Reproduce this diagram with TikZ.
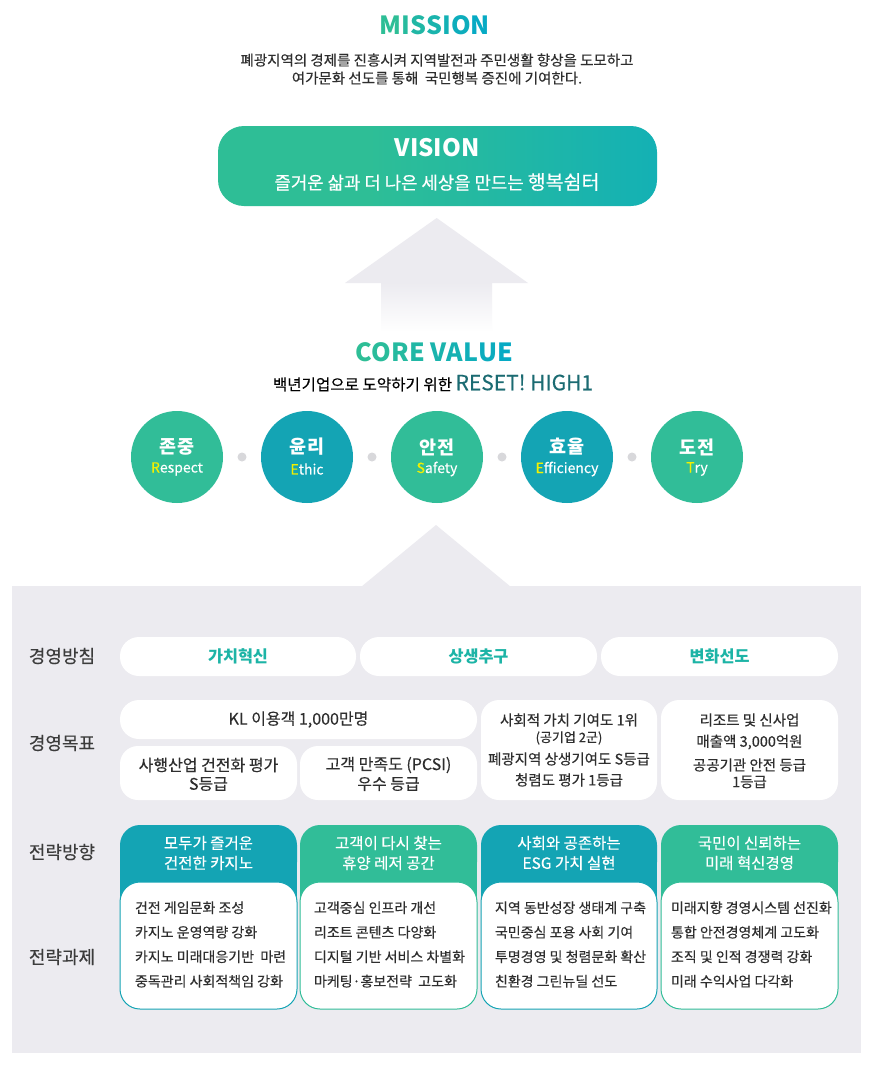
\documentclass[tikz,border=0pt]{standalone}
\usepackage{fontspec}
\setmainfont{Noto Sans CJK KR}[UprightFeatures={FakeBold=0.3}]
\usetikzlibrary{calc}
\definecolor{gA}{HTML}{2EBE96}
\definecolor{gB}{HTML}{06AAC4}
\definecolor{cTeal}{HTML}{14A4B4}
\definecolor{cGreen}{HTML}{31BD98}
\definecolor{panel}{HTML}{ECEBF0}
\definecolor{dotc}{HTML}{D8D8DB}
\definecolor{txt}{HTML}{2E2E2E}
\definecolor{lab}{HTML}{3C3C3C}
\definecolor{hl}{HTML}{F2F000}
\definecolor{resetc}{HTML}{1B6B72}
\definecolor{pilltxt}{HTML}{1DB4A6}
\newcommand{\myfs}[2]{\fontsize{#1}{#2}\selectfont}
\pgfdeclarehorizontalshading{visionshade}{100bp}{color(0bp)=(gA); color(42bp)=(gA); color(92bp)=(gB); color(100bp)=(gB)}
\tikzset{
  plain/.style={inner sep=0pt, outer sep=0pt},
  ttl/.style={plain, font=\myfs{25}{30}\bfseries},
  pill/.style={plain, fill=white, rounded corners=19pt, minimum height=39pt},
  goalbox/.style={plain, fill=white, rounded corners=18pt},
  hdr/.style={plain, rounded corners=20pt, minimum width=177pt, minimum height=57pt},
  taskbox/.style={plain, fill=white, rounded corners=20pt, minimum width=177pt, minimum height=127pt, line width=1pt},
  cval/.style={plain, circle, minimum size=92pt},
  sep/.style={plain, circle, fill=dotc, minimum size=9pt},
  rowlab/.style={plain, text=lab, font=\myfs{18}{20}},
  goaltxt/.style={plain, text=txt, font=\myfs{16}{19}},
  goaltxts/.style={plain, text=txt, font=\myfs{14.5}{19}},
  hdrtxt/.style={plain, text=white, align=center, font=\myfs{15.5}{20}},
  tasktxt/.style={plain, text=txt, align=left, anchor=west, font=\myfs{14}{24.5}},
}
\begin{document}
\begin{tikzpicture}[x=1pt,y=-1pt]
\useasboundingbox (0,0) rectangle (878,1069);
\fill[white] (0,0) rectangle (878,1069);
% MISSION
\node[ttl] (mission) at (435,25) {{\color{gA}M}{\color{gB!17!gA}I}{\color{gB!33!gA}S}{\color{gB!50!gA}S}{\color{gB!67!gA}I}{\color{gB!83!gA}O}{\color{gB}N}};
\node[plain, text=txt, align=center, font=\myfs{14.5}{18}] (mtext) at (437,69) {폐광지역의 경제를 진흥시켜 지역발전과 주민생활 향상을 도모하고\\여가문화 선도를 통해 \ 국민행복 증진에 기여한다.};
% VISION
\node[plain, shading=visionshade, rounded corners=26pt, minimum width=439pt, minimum height=80pt] (vision) at (437.5,166) {};
\node[plain, text=white, font=\myfs{24}{28}\bfseries] (vtitle) at (437,148) {VISION};
\node[plain, text=white, font=\myfs{17.8}{20}] (vsub) at (437,182) {즐거운 삶과 더 나은 세상을 만드는 {\myfs{19.5}{20}행복쉼터}};
% up arrow
\fill[panel] (436.7,218) -- (528,283) -- (345,283) -- cycle;
\shade[top color=panel, bottom color=white] (381,282.5) rectangle (492,332);
% CORE VALUE
\node[ttl] (core) at (434,352) {{\color{gA}C}{\color{gB!11!gA}O}{\color{gB!22!gA}R}{\color{gB!33!gA}E} {\color{gB!50!gA}V}{\color{gB!62!gA}A}{\color{gB!75!gA}L}{\color{gB!88!gA}U}{\color{gB}E}};
\node[plain, text=black, font=\myfs{15.6}{18}] (csub) at (433,383) {백년기업으로 도약하기 위한 {\color{resetc}\myfs{21}{20}RESET! HIGH1}};
% core value circles
\node[cval, fill=cGreen] (c1) at (177,457) {};
\node[cval, fill=cTeal] (c2) at (307,457) {};
\node[cval, fill=cGreen] (c3) at (437,457) {};
\node[cval, fill=cTeal] (c4) at (567,457) {};
\node[cval, fill=cGreen] (c5) at (697,457) {};
\node[sep] (s1) at (242,457) {};
\node[sep] (s2) at (372,457) {};
\node[sep] (s3) at (502,457) {};
\node[sep] (s4) at (632,457) {};
\foreach \n/\x/\k/\f/\r in {1/177/존중/R/espect, 2/307/윤리/E/thic, 3/437/안전/S/afety, 4/567/효율/E/fficiency, 5/697/도전/T/ry}{
  \node[plain, text=white, font=\myfs{18.5}{20}\bfseries] (k\n) at (\x,447) {\k};
  \node[plain, text=white, font=\myfs{14}{16}] (e\n) at (\x,469) {{\color{hl}\f}\r};
}
% triangle and panel
\fill[panel] (436,525) -- (511,587) -- (361,587) -- cycle;
\fill[panel] (12,586) rectangle (861,1053);
% row labels
\node[rowlab] (l1) at (62,656) {경영방침};
\node[rowlab] (l2) at (62,743) {경영목표};
\node[rowlab] (l3) at (62,852) {전략방향};
\node[rowlab] (l4) at (62,957) {전략과제};
% 경영방침
\node[pill, minimum width=236pt, text=pilltxt, font=\myfs{16.3}{18}\bfseries] (p1) at (238,656.5) {가치혁신};
\node[pill, minimum width=237pt, text=pilltxt, font=\myfs{16.3}{18}\bfseries] (p2) at (478.5,656.5) {상생추구};
\node[pill, minimum width=237pt, text=pilltxt, font=\myfs{16.3}{18}\bfseries] (p3) at (719.5,656.5) {변화선도};
% 경영목표
\node[pill, minimum width=357pt, goaltxt] (g1) at (298.5,719.5) {KL 이용객 1,000만명};
\node[goalbox, minimum width=177pt, minimum height=54pt] (g2) at (208.5,773) {};
\node[goalbox, minimum width=177pt, minimum height=54pt] (g3) at (388.5,773) {};
\node[goalbox, minimum width=176pt, minimum height=100pt] (g4) at (569,750) {};
\node[goalbox, minimum width=177pt, minimum height=100pt] (g5) at (749.5,750) {};
\node[goaltxt] (g2a) at (208.5,765) {사행산업 건전화 평가};
\node[goaltxt] (g2b) at (208.5,784) {S등급};
\node[goaltxt] (g3a) at (388.5,765) {고객 만족도 (PCSI)};
\node[goaltxt] (g3b) at (388.5,784) {우수 등급};
\node[goaltxts] (g4a) at (569,720) {사회적 가치 기여도 1위};
\node[goaltxts, font=\myfs{13}{14}] (g4b) at (569,738) {(공기업 2군)};
\node[goaltxts] (g4c) at (569,759) {폐광지역 상생기여도 S등급};
\node[goaltxts] (g4d) at (569,780) {청렴도 평가 1등급};
\node[goaltxts] (g5a) at (749.5,720) {리조트 및 신사업};
\node[goaltxts] (g5b) at (749.5,742) {매출액 3,000억원};
\node[goaltxts] (g5c) at (749.5,765) {공공기관 안전 등급};
\node[goaltxts] (g5d) at (749.5,782) {1등급};
% 전략방향 headers (extended downwards behind the task boxes)
\fill[cTeal] (120,860) rectangle (297,898);
\fill[cGreen] (300,860) rectangle (477,898);
\fill[cTeal] (481,860) rectangle (657,898);
\fill[cGreen] (661,860) rectangle (838,898);
\node[hdr, fill=cTeal] (h1) at (208.5,853.5) {};
\node[hdr, fill=cGreen] (h2) at (388.5,853.5) {};
\node[hdr, fill=cTeal, minimum width=176pt] (h3) at (569,853.5) {};
\node[hdr, fill=cGreen] (h4) at (749.5,853.5) {};
\node[hdrtxt] (h1t) at (208.5,853) {모두가 즐거운\\건전한 카지노};
\node[hdrtxt] (h2t) at (388.5,853) {고객이 다시 찾는\\휴양 레저 공간};
\node[hdrtxt] (h3t) at (569,853) {사회와 공존하는\\ESG 가치 실현};
\node[hdrtxt] (h4t) at (749.5,853) {국민이 신뢰하는\\미래 혁신경영};
% 전략과제 boxes
\node[taskbox, draw=cTeal] (t1) at (208.5,945.5) {};
\node[taskbox, draw=cGreen] (t2) at (388.5,945.5) {};
\node[taskbox, draw=cTeal, minimum width=176pt] (t3) at (569,945.5) {};
\node[taskbox, draw=cGreen] (t4) at (749.5,945.5) {};
\node[tasktxt] (t1t) at (135,944.5) {건전 게임문화 조성\\카지노 운영역량 강화\\카지노 미래대응기반 \ 마련\\중독관리 사회적책임 강화};
\node[tasktxt] (t2t) at (314,944.5) {고객중심 인프라 개선\\리조트 콘텐츠 다양화\\디지털 기반 서비스 차별화\\마케팅·홍보전략 \ 고도화};
\node[tasktxt] (t3t) at (495,944.5) {지역 동반성장 생태계 구축\\국민중심 포용 사회 기여\\투명경영 및 청렴문화 확산\\친환경 그린뉴딜 선도};
\node[tasktxt] (t4t) at (671,944.5) {미래지향 경영시스템 선진화\\통합 안전경영체계 고도화\\조직 및 인적 경쟁력 강화\\미래 수익사업 다각화};
\end{tikzpicture}
\end{document}
